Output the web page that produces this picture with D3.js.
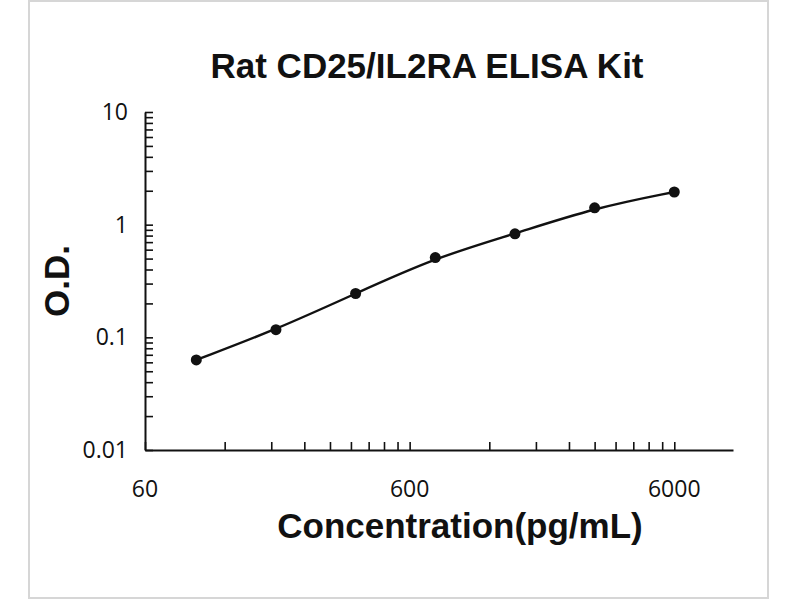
<!DOCTYPE html>
<html>
<head>
<meta charset="utf-8">
<script src="https://cdn.jsdelivr.net/npm/d3@7"></script>
<style>
  body { margin: 0; background: #fff; }
  svg { display: block; }
  .tick-label { font-family: "Open Sans", "Liberation Sans", sans-serif; font-size: 23px; fill: #111; }
  .title { font-family: "Liberation Sans", Arial, sans-serif; font-weight: bold; font-size: 35px; fill: #111; }
</style>
</head>
<body>
<div id="chart"></div>
<script>
// standard curve data
const concentrations = [93.75, 187.5, 375, 750, 1500, 3000, 6000];
const odValues = [0.063, 0.117, 0.245, 0.51, 0.83, 1.41, 1.95];
const xTickLabels = [60, 600, 6000];
const yTickLabels = [0.01, 0.1, 1, 10];

const titleText = 'Rat CD25/IL2RA ELISA Kit';
const xLabel = 'Concentration(pg/mL)';
const yLabel = 'O.D.';

const W = 800;
const H = 600;
const plotLeft = 145;
const plotRight = 733;
const plotTop = 112;
const plotBottom = 450;

const $svg = d3.select('#chart').append('svg')
  .attr('width', W)
  .attr('height', H);

// light frame round the picture
$svg.append('rect')
  .attr('x', 29).attr('y', 1)
  .attr('width', 739).attr('height', 597)
  .attr('fill', '#fff')
  .attr('stroke', '#d6d6d6')
  .attr('stroke-width', 2);

const scaleX = d3.scaleLog().domain([60, 10000]).range([plotLeft, plotRight]);
const scaleY = d3.scaleLog().domain([0.01, 10]).range([plotBottom, plotTop]);

// minor ticks: multiples 1..9 of each labelled value
function minorTicks(bases, domain) {
  const out = [];
  bases.forEach(b => {
    for (let k = 1; k <= 9; k++) {
      const v = b * k;
      if (v >= domain[0] && v <= domain[1] * 1.0001) out.push(v);
    }
  });
  return out;
}

const xTicks = minorTicks(xTickLabels, [60, 10000]);
const yTicks = minorTicks(yTickLabels, [0.01, 10]);

const $xAxis = $svg.append('g')
  .attr('transform', `translate(0, ${plotBottom})`)
  .call(d3.axisBottom(scaleX).tickValues(xTicks).tickSizeInner(-8).tickSizeOuter(0).tickFormat(''));

const $yAxis = $svg.append('g')
  .attr('transform', `translate(${plotLeft}, 0)`)
  .call(d3.axisLeft(scaleY).tickValues(yTicks).tickSizeInner(-8).tickSizeOuter(0).tickFormat(''));

[$xAxis, $yAxis].forEach($a => {
  $a.select('.domain').attr('stroke', '#111').attr('stroke-width', 2);
  $a.selectAll('.tick line').attr('stroke', '#111').attr('stroke-width', 1.6);
});

// tick labels
$svg.append('g').selectAll('text')
  .data(xTickLabels)
  .join('text')
  .attr('class', 'tick-label')
  .attr('x', d => scaleX(d))
  .attr('y', 497)
  .attr('text-anchor', 'middle')
  .text(d => d);

$svg.append('g').selectAll('text')
  .data(yTickLabels)
  .join('text')
  .attr('class', 'tick-label')
  .attr('x', 128)
  .attr('y', d => scaleY(d) + 8)
  .attr('text-anchor', 'end')
  .text(d => d);

// titles
$svg.append('text')
  .attr('class', 'title')
  .attr('x', 427)
  .attr('y', 78)
  .attr('text-anchor', 'middle')
  .text(titleText);

$svg.append('text')
  .attr('class', 'title')
  .attr('x', 460)
  .attr('y', 538)
  .attr('text-anchor', 'middle')
  .text(xLabel);

$svg.append('text')
  .attr('class', 'title')
  .attr('transform', 'translate(69, 281) rotate(-90)')
  .attr('text-anchor', 'middle')
  .text(yLabel);

// fitted curve + points
const points = concentrations.map((c, i) => ({ c, od: odValues[i] }));

const generateLine = d3.line()
  .x(d => scaleX(d.c))
  .y(d => scaleY(d.od))
  .curve(d3.curveBasis);

$svg.append('path')
  .datum(points)
  .attr('d', generateLine)
  .attr('fill', 'none')
  .attr('stroke', '#111')
  .attr('stroke-width', 2.4);

$svg.append('g').selectAll('circle')
  .data(points)
  .join('circle')
  .attr('cx', d => scaleX(d.c))
  .attr('cy', d => scaleY(d.od))
  .attr('r', 5.5)
  .attr('fill', '#111');
</script>
</body>
</html>
